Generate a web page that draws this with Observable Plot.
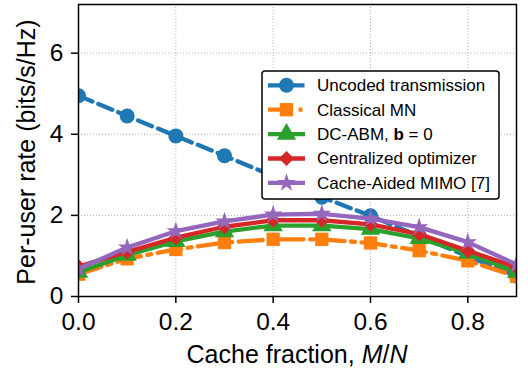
<!DOCTYPE html>
<html>
<head>
<meta charset="utf-8">
<script src="https://cdn.jsdelivr.net/npm/d3@7"></script>
<script src="https://cdn.jsdelivr.net/npm/@observablehq/plot@0.6"></script>
<style>
  html, body { margin: 0; padding: 0; background: #fff; }
  #chart { width: 528px; height: 372px; }
</style>
</head>
<body>
<div id="chart"></div>
<script>
// ---- data ----
const cacheFraction = [0, 0.1, 0.2, 0.3, 0.4, 0.5, 0.6, 0.7, 0.8, 0.9];
const uncoded   = [4.95, 4.45, 3.96, 3.47, 2.97, 2.45, 1.99, 1.49, 0.99, 0.50];
const classical = [0.55, 0.93, 1.16, 1.33, 1.41, 1.41, 1.32, 1.13, 0.88, 0.50];
const dcabm     = [0.60, 1.02, 1.36, 1.60, 1.75, 1.75, 1.66, 1.43, 1.07, 0.60];
const central   = [0.74, 1.10, 1.45, 1.72, 1.88, 1.88, 1.78, 1.54, 1.13, 0.72];
const mimo      = [0.68, 1.21, 1.61, 1.85, 2.02, 2.04, 1.92, 1.71, 1.34, 0.79];
const seriesNames = ["Uncoded transmission", "Classical MN", "DC-ABM, b = 0", "Centralized optimizer", "Cache-Aided MIMO [7]"];
const xTicks = [0, 0.2, 0.4, 0.6, 0.8];
const yTicks = [0, 2, 4, 6];

// ---- styling ----
const colors = ["#1f77b4", "#ff7f0e", "#2ca02c", "#d62728", "#9467bd"];
const symbols = ["circle", "square", "triangle", "diamond2", "star"];
const dashes = ["15,6.5", "24,6.5,4,6.5", null, null, null];
const radii = [7.5, 7.5, 7.2, 6.8, 5.8];
const values = [uncoded, classical, dcabm, central, mimo];

const rows = [];
values.forEach((vals, s) => cacheFraction.forEach((xv, i) => rows.push({s, x: xv, y: vals[i]})));

const font = "'Liberation Sans', Arial, Helvetica, sans-serif";
const marks = [
  Plot.gridX(xTicks, {stroke: "#b0b0b0", strokeOpacity: 1, strokeWidth: 1, strokeDasharray: "1,2"}),
  Plot.gridY(yTicks, {stroke: "#b0b0b0", strokeOpacity: 1, strokeWidth: 1, strokeDasharray: "1,2"})
];
values.forEach((vals, s) => {
  const d = rows.filter(r => r.s === s);
  marks.push(Plot.line(d, {x: "x", y: "y", stroke: colors[s], strokeWidth: 4.3, strokeDasharray: dashes[s], clip: true}));
  marks.push(Plot.dot(d, {x: "x", y: "y", fill: colors[s], stroke: "none", symbol: () => symbols[s], r: radii[s], clip: true}));
});
marks.push(Plot.frame({stroke: "#000", strokeWidth: 1.5}));
marks.push(Plot.axisX(xTicks, {tickSize: 7, tickPadding: 9, strokeWidth: 1.5, fontSize: 24.5, tickFormat: d3.format(".1f"), label: null}));
marks.push(Plot.axisY(yTicks, {tickSize: 7, tickPadding: 8, strokeWidth: 1.5, fontSize: 24.5, tickFormat: d => String(d), label: null}));

const chart = Plot.plot({
  width: 528, height: 372,
  marginLeft: 78, marginRight: 12, marginTop: 4, marginBottom: 76,
  style: {fontFamily: font, color: "#000", background: "#fff", overflow: "visible"},
  x: {domain: [0, 0.9]},
  y: {domain: [0, 7.2]},
  marks
});
document.getElementById("chart").appendChild(chart);

// ---- axis labels & legend ----
const svg = d3.select(chart);
const xl = svg.append("text").attr("x", 297).attr("y", 363).attr("text-anchor", "middle")
  .attr("font-size", 25).attr("font-family", font).attr("fill", "#000");
xl.append("tspan").text("Cache fraction, ");
xl.append("tspan").attr("font-style", "italic").text("M");
xl.append("tspan").text("/");
xl.append("tspan").attr("font-style", "italic").text("N");

svg.append("text").attr("transform", "translate(35,152) rotate(-90)").attr("text-anchor", "middle")
  .attr("font-size", 25).attr("font-family", font).attr("fill", "#000").text("Per-user rate (bits/s/Hz)");

const lg = svg.append("g").attr("text-anchor", "start");
lg.append("rect").attr("x", 262).attr("y", 71).attr("width", 237).attr("height", 128).attr("rx", 3)
  .attr("fill", "#fff").attr("stroke", "#000").attr("stroke-width", 1.5);
const symMap = {circle: d3.symbolCircle, square: d3.symbolSquare, triangle: d3.symbolTriangle, diamond2: d3.symbolDiamond2, star: d3.symbolStar};
seriesNames.forEach((name, s) => {
  const cy = 85.3 + s * 24.4;
  lg.append("line").attr("x1", 268).attr("x2", 305).attr("y1", cy).attr("y2", cy)
    .attr("stroke", colors[s]).attr("stroke-width", 4.3).attr("stroke-dasharray", dashes[s]);
  lg.append("path").attr("transform", `translate(286.5,${cy})`)
    .attr("d", d3.symbol(symMap[symbols[s]], Math.PI * radii[s] * radii[s])())
    .attr("fill", colors[s]);
  const t = lg.append("text").attr("x", 317).attr("y", cy).attr("dy", "0.35em").attr("text-anchor", "start")
    .attr("font-size", 17).attr("font-family", font).attr("fill", "#000");
  if (s === 2) {
    t.append("tspan").text("DC-ABM, ");
    t.append("tspan").attr("font-weight", "bold").text("b");
    t.append("tspan").text(" = 0");
  } else {
    t.text(name);
  }
});
</script>
</body>
</html>
